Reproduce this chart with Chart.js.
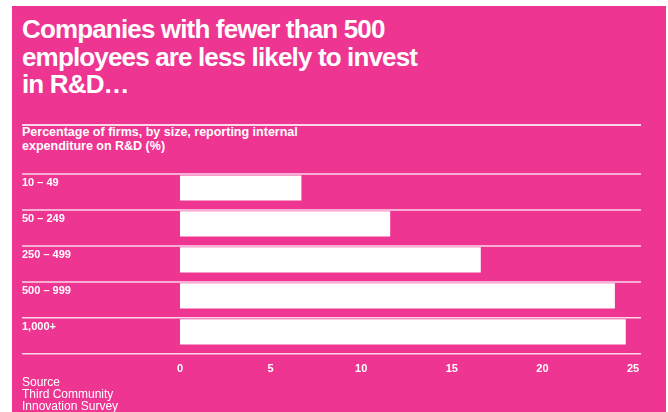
<!DOCTYPE html>
<html>
<head>
<meta charset="utf-8">
<script src="https://cdn.jsdelivr.net/npm/chart.js@4.4.0/dist/chart.umd.min.js"></script>
<style>
  body { margin: 0; background: #fff; width: 668px; height: 412px; overflow: hidden; position: relative; }
  #panel { position: absolute; left: 12px; top: 6px; width: 654px; height: 406px; background: #EE3592; }
  #title { position: absolute; left: 22px; top: 16px; margin: 0; color: #fff;
    font: bold 26px "Liberation Sans", Arial, sans-serif; line-height: 27.5px; letter-spacing: -0.85px; }
  #rule { position: absolute; left: 22px; top: 124px; width: 619px; height: 1.5px; background: rgba(255,255,255,0.8); }
  #subtitle { position: absolute; left: 22px; top: 125px; color: #fff;
    font: bold 12.5px "Liberation Sans", Arial, sans-serif; line-height: 14px; letter-spacing: 0; }
  #source { position: absolute; left: 22px; top: 376px; color: #fff;
    font: 12px "Liberation Sans", Arial, sans-serif; line-height: 12px; letter-spacing: 0; }
  #chartBox { position: absolute; left: 0; top: 160px; width: 668px; height: 239px; }
</style>
</head>
<body>
<div id="panel"></div>
<h1 id="title">Companies with fewer than 500<br>employees are less likely to invest<br>in R&amp;D…</h1>
<div id="rule"></div>
<div id="subtitle">Percentage of firms, by size, reporting internal<br>expenditure on R&amp;D (%)</div>
<div id="chartBox"><canvas id="rdChart"></canvas></div>
<div id="source">Source<br>Third Community<br>Innovation Survey</div>

<script>
// Data
const sizeBands = ['10 – 49', '50 – 249', '250 – 499', '500 – 999', '1,000+'];
const rdShare = [6.7, 11.6, 16.6, 24.0, 24.6];
const xTickValues = [0, 5, 10, 15, 20, 25];

// Separator lines sit just above each bar, not centred between bars
const rowLines = {
    id: 'rowLines',
    beforeDatasetsDraw(chart) {
        const y = chart.scales.y;
        const area = chart.chartArea;
        const band = (y.bottom - y.top) / sizeBands.length;
        const ctx = chart.ctx;
        ctx.save();
        ctx.strokeStyle = 'rgba(255,255,255,0.8)';
        ctx.lineWidth = 1.5;
        for (let i = 0; i <= sizeBands.length; i++) {
            const py = y.top + i * band + 4;
            ctx.beginPath();
            ctx.moveTo(22, py);
            ctx.lineTo(area.right + 8, py);
            ctx.stroke();
        }
        ctx.restore();
    }
};

function createChart() {
    const ctx = document.getElementById('rdChart').getContext('2d');
    new Chart(ctx, {
        type: 'bar',
        data: {
            labels: sizeBands,
            datasets: [{
                data: rdShare,
                backgroundColor: '#ffffff',
                borderWidth: 0,
                categoryPercentage: 1,
                barPercentage: 0.7
            }]
        },
        options: {
            indexAxis: 'y',
            responsive: true,
            maintainAspectRatio: false,
            animation: false,
            layout: { padding: { left: 22, right: 35, top: 10, bottom: 10 } },
            plugins: {
                legend: { display: false },
                tooltip: { enabled: false }
            },
            scales: {
                x: {
                    min: 0,
                    max: 25,
                    afterBuildTicks: axis => { axis.ticks = xTickValues.map(v => ({ value: v })); },
                    grid: { display: false, drawTicks: false },
                    border: { display: false },
                    ticks: {
                        color: '#fff',
                        padding: 13,
                        font: { family: 'Liberation Sans', size: 11, weight: 'bold' }
                    }
                },
                y: {
                    grid: { display: false, drawTicks: false },
                    border: { display: false },
                    afterFit: axis => { axis.width = 158; },
                    ticks: {
                        color: '#fff',
                        crossAlign: 'far',
                        labelOffset: -5,
                        font: { family: 'Liberation Sans', size: 11, weight: 'bold' }
                    }
                }
            }
        },
        plugins: [rowLines]
    });
}

document.addEventListener('DOMContentLoaded', createChart);
</script>
</body>
</html>
